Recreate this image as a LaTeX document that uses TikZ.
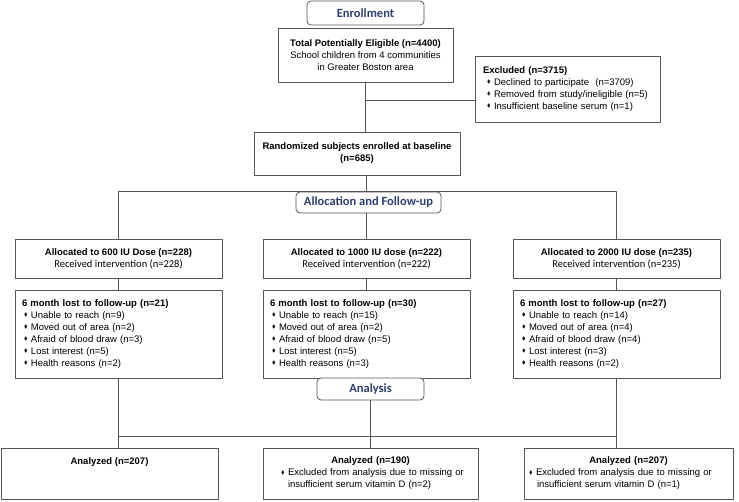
\documentclass[tikz,border=0pt]{standalone}
\usepackage{fontspec}
\usepackage{amssymb}
\setmainfont{Liberation Sans}
\newfontfamily\calibrifont{Carlito}
\definecolor{headblue}{RGB}{47,62,112}
\definecolor{edgegray}{RGB}{85,85,85}
\newcommand{\bul}{\makebox[7pt][l]{\raisebox{0.35ex}{\scalebox{0.55}{$\blacklozenge$}}}}
\tikzset{
  box/.style={draw=edgegray, line width=0.8pt, fill=white, inner sep=0pt,
    font=\fontsize{9.5}{12}\selectfont, align=center},
  title/.style={box, rounded corners=4pt, text=headblue,
    font=\calibrifont\bfseries\fontsize{12.5}{14}\selectfont},
  link/.style={draw=edgegray, line width=0.8pt}
}

\begin{document}
\begin{tikzpicture}[x=1pt,y=-1pt,line join=round]
\useasboundingbox (0,0) rectangle (739,501);

% enrollment
\node[title, minimum width=117pt, minimum height=24pt] (enroll) at (365.5,13) {Enrollment};
\node[box, minimum width=175pt, minimum height=54pt] (total) at (365.5,55)
  {\textbf{Total Potentially Eligible (n=4400)}\\School children from 4 communities\\in Greater Boston area};
\node[box, minimum width=185pt, minimum height=66pt, text width=169pt, align=left] (excl) at (567.5,89)
  {\textbf{Excluded (n=3715)}\\
   \hspace*{4pt}\bul Declined to participate\ \ (n=3709)\\
   \hspace*{4pt}\bul Removed from study/ineligible (n=5)\\
   \hspace*{4pt}\bul Insufficient baseline serum (n=1)};
\node[box, minimum width=206pt, minimum height=43pt] (rand) at (357,153.5)
  {\textbf{Randomized subjects enrolled at baseline}\\\textbf{(n=685)}};

\coordinate (exj) at (365.5,100);
\draw[link] (total.south) -- (total.south |- rand.north);
\draw[link] (exj) -- (exj -| excl.west);

% allocation
\node[title, minimum width=145pt, minimum height=21pt] (alloc) at (368.5,202.5) {Allocation and Follow-up};

\node[box, minimum width=207pt, minimum height=39pt] (A1) at (118.5,259)
  {\textbf{Allocated to 600 IU Dose (n=228)}\\{\calibrifont\fontsize{10.5}{12}\selectfont Received intervention (n=228)}};
\node[box, minimum width=207pt, minimum height=39pt] (A2) at (366.5,259)
  {\textbf{Allocated to 1000 IU dose (n=222)}\\{\calibrifont\fontsize{10.5}{12}\selectfont Received intervention (n=222)}};
\node[box, minimum width=207pt, minimum height=39pt] (A3) at (616.5,259)
  {\textbf{Allocated to 2000 IU dose (n=235)}\\{\calibrifont\fontsize{10.5}{12}\selectfont Received intervention (n=235)}};

\node[box, minimum width=207pt, minimum height=88pt, text width=193pt, align=left] (L1) at (118.5,334)
  {\textbf{6 month lost to follow-up (n=21)}\\
   \hspace*{2pt}\bul Unable to reach (n=9)\\
   \hspace*{2pt}\bul Moved out of area (n=2)\\
   \hspace*{2pt}\bul Afraid of blood draw (n=3)\\
   \hspace*{2pt}\bul Lost interest (n=5)\\
   \hspace*{2pt}\bul Health reasons (n=2)};
\node[box, minimum width=207pt, minimum height=88pt, text width=193pt, align=left] (L2) at (366.5,334)
  {\textbf{6 month lost to follow-up (n=30)}\\
   \hspace*{2pt}\bul Unable to reach (n=15)\\
   \hspace*{2pt}\bul Moved out of area (n=2)\\
   \hspace*{2pt}\bul Afraid of blood draw (n=5)\\
   \hspace*{2pt}\bul Lost interest (n=5)\\
   \hspace*{2pt}\bul Health reasons (n=3)};
\node[box, minimum width=207pt, minimum height=88pt, text width=193pt, align=left] (L3) at (616.5,334)
  {\textbf{6 month lost to follow-up (n=27)}\\
   \hspace*{2pt}\bul Unable to reach (n=14)\\
   \hspace*{2pt}\bul Moved out of area (n=4)\\
   \hspace*{2pt}\bul Afraid of blood draw (n=4)\\
   \hspace*{2pt}\bul Lost interest (n=3)\\
   \hspace*{2pt}\bul Health reasons (n=2)};

\coordinate (split) at (A2.north |- alloc.north);
\draw[link] (rand.south -| split) -- (split);
\draw[link] (A1.north) -- (A1.north |- split) -- (A3.north |- split) -- (A3.north);
\draw[link] (alloc.south -| A2.north) -- (A2.north);
\draw[link] (A1.south) -- (L1.north);
\draw[link] (A2.south) -- (L2.north);
\draw[link] (A3.south) -- (L3.north);

% analysis
\node[title, minimum width=107pt, minimum height=22pt] (analysis) at (370.5,389) {Analysis};

\node[box, minimum width=217pt, minimum height=51pt] (Z1) at (109.5,473.5)
  {\textbf{Analyzed (n=207)}\\\mbox{}\\\mbox{}};
\node[box, minimum width=215pt, minimum height=51pt, text width=203pt, align=left] (Z2) at (370.5,473.5)
  {\makebox[203pt]{\textbf{Analyzed (n=190)}}\\
   \hspace*{12pt}\bul Excluded from analysis due to missing or\\
   \hspace*{19pt}insufficient serum vitamin D (n=2)};
\node[box, minimum width=209pt, minimum height=51pt, text width=199pt, align=left] (Z3) at (628.5,473.5)
  {\makebox[199pt]{\textbf{Analyzed (n=207)}}\\
   \bul Excluded from analysis due to missing or\\
   \hspace*{8pt}insufficient serum vitamin D (n=1)};

\coordinate (joinZ) at (370.5,436);
\draw[link] (L1.south) -- (L1.south |- joinZ) -- (L3.south |- joinZ) -- (L3.south);
\draw[link] (analysis.south) -- (Z2.north);
\draw[link] (L1.south |- joinZ) -- (L1.south |- Z1.north);
\draw[link] (L3.south |- joinZ) -- (L3.south |- Z3.north);
\end{tikzpicture}
\end{document}
